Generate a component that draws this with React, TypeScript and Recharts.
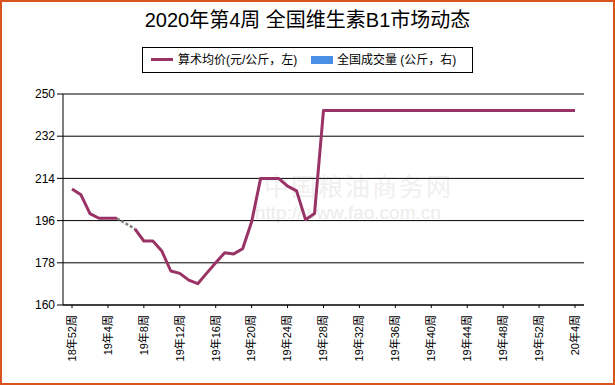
import { CartesianGrid, Line, LineChart, XAxis, YAxis } from "recharts";

// week labels 18年52周 .. 20年4周
const weeks: string[] = [
  "18年52周",
  ...Array.from({ length: 52 }, (_, i) => `19年${i + 1}周`),
  ...Array.from({ length: 4 }, (_, i) => `20年${i + 1}周`),
];

// 算术均价 (元/公斤), null = no quote that week
const price: (number | null)[] = [
  209.5, 207, 199, 197, 197, 197, null, 192.5, 187.3, 187.3,
  183, 174.5, 173.5, 170.6, 169.1, 173.6, 178, 182.3, 181.8, 184,
  195.5, 214, 214, 214, 210.7, 208.7, 196.4, 199, 243, 243,
  243, 243, 243, 243, 243, 243, 243, 243, 243, 243,
  243, 243, 243, 243, 243, 243, 243, 243, 243, 243,
  243, 243, 243, 243, 243, 243, 243,
];

const yTicks = [160, 178, 196, 214, 232, 250];

const title = "2020年第4周 全国维生素B1市场动态";
const legendPrice = "算术均价(元/公斤，左)";
const legendVolume = "全国成交量 (公斤，右)";

// dashed bridge over missing weeks: only the two neighbours of a gap
const bridge = price.map((v, i) => {
  if (v === null) return null;
  const prevGap = i > 0 && price[i - 1] === null;
  const nextGap = i < price.length - 1 && price[i + 1] === null;
  return prevGap || nextGap ? v : null;
});

const data = weeks.map((week, i) => ({ week, price: price[i], bridge: bridge[i] }));

const FONT = '"Liberation Sans", Arial, "Noto Sans CJK SC", sans-serif';
const PURPLE = "#993366";
const BLUE = "#4A8FE6";

const WeekTick = (props: any) => {
  const { x, y, payload } = props;
  const ax = x;
  const ay = y + 5;
  return (
    <text
      x={ax}
      y={ay}
      dy="0.35em"
      transform={`rotate(-90, ${ax}, ${ay})`}
      textAnchor="end"
      fontSize={11}
      fontFamily={FONT}
      fill="#000"
    >
      {payload.value}
    </text>
  );
};

const App = () => {
  return (
    <div style={{ position: "absolute", left: 0, top: 0, width: 615, height: 385, background: "#fff", fontFamily: FONT }}>
      {/* watermark */}
      <div style={{ position: "absolute", left: 264, top: 167, fontSize: 25, color: "#f0f0f0", letterSpacing: 2 }}>中国粮油商务网</div>
      <div style={{ position: "absolute", left: 255, top: 202, fontSize: 19, color: "#ececec" }}>http://www.fao.com.cn</div>

      <div style={{ position: "absolute", left: 0, top: 0 }}>
        <LineChart width={615} height={385} data={data} margin={{ top: 94, right: 31, left: 0, bottom: 0 }}>
          <CartesianGrid vertical={false} stroke="#000" strokeOpacity={1} />
          <XAxis
            dataKey="week"
            scale="point"
            padding={{ left: 9, right: 9 }}
            interval={3}
            height={80}
            tickSize={3}
            tickLine={{ stroke: "#000" }}
            axisLine={{ stroke: "#000" }}
            tick={<WeekTick />}
          />
          <YAxis
            domain={[160, 250]}
            ticks={yTicks}
            width={63}
            tickSize={6}
            tickMargin={2}
            tickLine={{ stroke: "#000" }}
            axisLine={{ stroke: "#000" }}
            tick={{ fill: "#000", fontSize: 12, fontFamily: FONT }}
            interval={0}
          />
          <YAxis
            yAxisId="right"
            orientation="right"
            width={0}
            domain={[0, 1]}
            tick={false}
            tickLine={false}
            axisLine={{ stroke: "#000" }}
          />
          <Line
            dataKey="bridge"
            stroke="#808080"
            strokeWidth={2.5}
            strokeDasharray="3 2"
            connectNulls
            dot={false}
            activeDot={false}
            isAnimationActive={false}
          />
          <Line
            dataKey="price"
            stroke={PURPLE}
            strokeWidth={3}
            strokeLinejoin="round"
            dot={false}
            activeDot={false}
            isAnimationActive={false}
          />
        </LineChart>
      </div>

      {/* title */}
      <div style={{ position: "absolute", left: 0, width: 615, top: 9, textAlign: "center", fontSize: 20, lineHeight: "22px", color: "#000" }}>
        {title}
      </div>

      {/* legend */}
      <div style={{ position: "absolute", left: 142, top: 47, width: 331, height: 26, boxSizing: "border-box", border: "1px solid #000", fontSize: 12, color: "#000" }}>
        <div style={{ position: "absolute", left: 8, top: 10, width: 22, height: 3, background: PURPLE }} />
        <div style={{ position: "absolute", left: 35, top: 4, lineHeight: "16px", whiteSpace: "nowrap" }}>{legendPrice}</div>
        <div style={{ position: "absolute", left: 168, top: 8, width: 22, height: 8, background: BLUE }} />
        <div style={{ position: "absolute", left: 194, top: 4, lineHeight: "16px", whiteSpace: "nowrap" }}>{legendVolume}</div>
      </div>

      {/* outer frame */}
      <div style={{ position: "absolute", left: 0, top: 0, width: 615, height: 385, boxSizing: "border-box", border: "2px solid #D9531E", pointerEvents: "none" }} />
    </div>
  );
};

export default App;
